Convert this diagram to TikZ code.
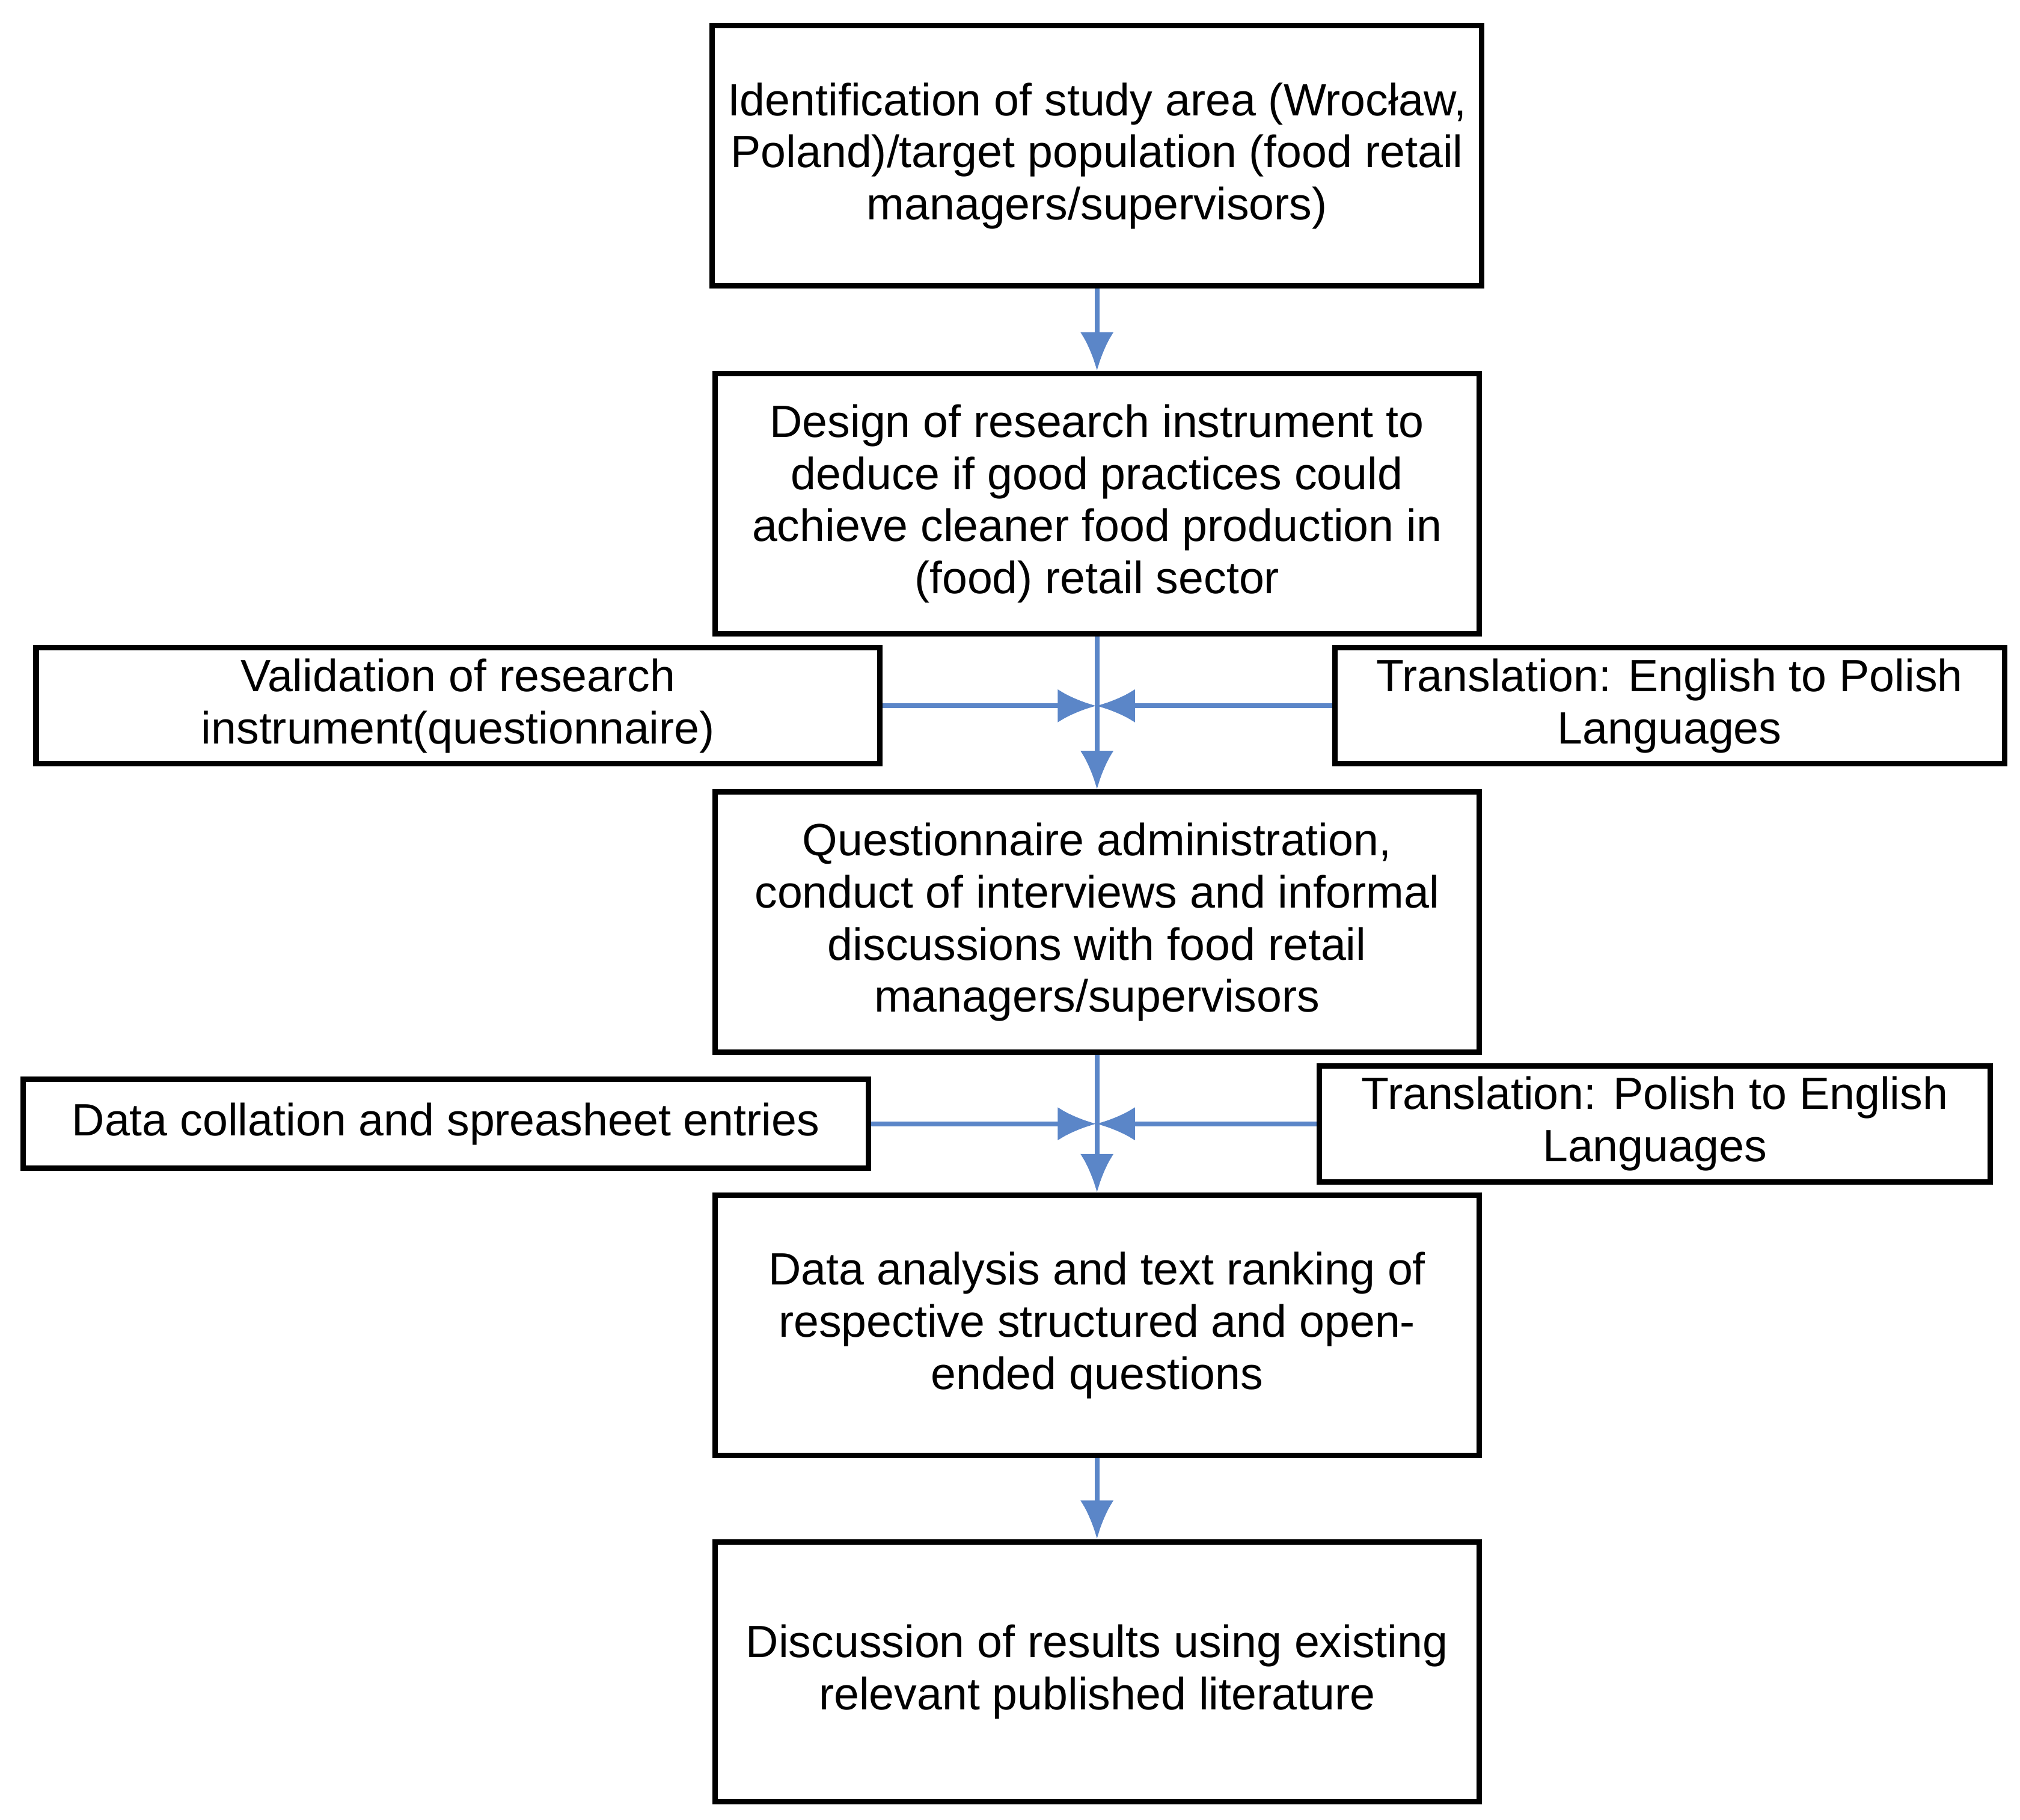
\documentclass[tikz,border=0pt]{standalone}
\usepackage{fontspec}
\setmainfont{Liberation Sans}
\usetikzlibrary{arrows.meta}
\definecolor{flowblue}{HTML}{5B86C8}
\begin{document}
\begin{tikzpicture}[
        stage/.style={draw,line width=1.2pt,align=center,minimum width=5.93cm,minimum height=2.02cm,font=\fontsize{10}{11.5}\selectfont},
        side/.style={draw,line width=1.2pt,align=center,minimum height=0.9cm,inner sep=1pt,font=\fontsize{10}{11.5}\selectfont},
        flow/.style={draw=flowblue,line width=1.1pt,-{Latex[length=3mm,width=2.6mm]}}
    ]

    \useasboundingbox (0,0) rectangle (15.68,-14.13);

    \node[stage] (ident) at (8.515,-1.21) {Identification of study area (Wrocław,\\Poland)/target population (food retail\\managers/supervisors)};
    \node[stage] (design) at (8.515,-3.91) {Design of research instrument to\\deduce if good practices could\\achieve cleaner food production in\\(food) retail sector};
    \node[side,minimum width=6.55cm] (valid) at (3.555,-5.48) {Validation of research\\instrument(questionnaire)};
    \node[side,minimum width=5.2cm] (transEP) at (12.96,-5.48) {Translation: English to Polish\\Languages};
    \node[stage] (admin) at (8.515,-7.16) {Questionnaire administration,\\conduct of interviews and informal\\discussions with food retail\\managers/supervisors};
    \node[side,minimum width=6.56cm,minimum height=0.69cm] (collate) at (3.46,-8.725) {Data collation and spreasheet entries};
    \node[side,minimum width=5.21cm] (transPE) at (12.845,-8.725) {Translation: Polish to English\\Languages};
    \node[stage] (analysis) at (8.515,-10.29) {Data analysis and text ranking of\\respective structured and open-\\ended questions};
    \node[stage] (discuss) at (8.515,-12.98) {Discussion of results using existing\\relevant published literature};

    \coordinate (j1) at (8.51,-5.48);
    \coordinate (j2) at (8.51,-8.725);

    \draw[flow] (ident) -- (design);
    \draw[flow] (design) -- (admin);
    \draw[flow] (valid) -- (j1);
    \draw[flow] (transEP) -- (j1);
    \draw[flow] (admin) -- (analysis);
    \draw[flow] (collate) -- (j2);
    \draw[flow] (transPE) -- (j2);
    \draw[flow] (analysis) -- (discuss);

\end{tikzpicture}
\end{document}
